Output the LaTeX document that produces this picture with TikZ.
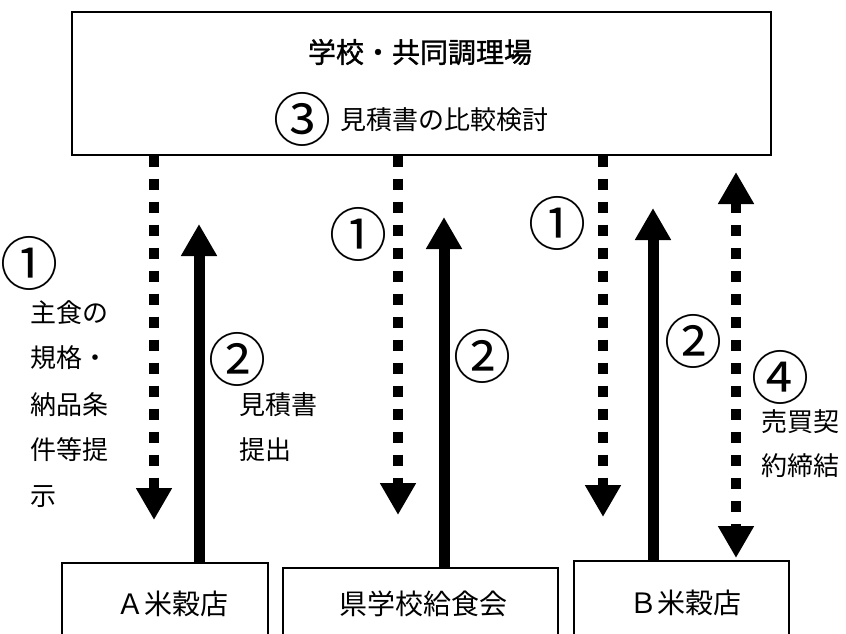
\documentclass[tikz,border=0pt]{standalone}
\usepackage{fontspec}
\usetikzlibrary{arrows.meta}
\newfontfamily\jp{Noto Sans CJK JP}
\newfontfamily\jpm{Noto Sans CJK JP}[FakeBold=1.2]
\tikzset{
  box/.style={draw, line width=1.6pt, fill=white},
  title/.style={font=\jpm\fontsize{28}{28}\selectfont, inner sep=0pt},
  lbl/.style={font=\jp\fontsize{26}{26}\selectfont, inner sep=0pt},
  boxlbl/.style={font=\jp\fontsize{28}{28}\selectfont, inner sep=0pt},
  cnum/.style={font=\jp\fontsize{58}{58}\selectfont, inner sep=0pt},
  solidarrow/.style={line width=11pt, -{Triangle[width=34pt,length=32pt]}},
  dasharrow/.style={line width=10pt, dash pattern=on 11pt off 12pt, -{Triangle[width=34pt,length=32pt]}},
  dblarrow/.style={line width=10pt, dash pattern=on 11pt off 12pt, {Triangle[width=34pt,length=32pt]}-{Triangle[width=34pt,length=32pt]}}
}
\begin{document}
\begin{tikzpicture}[x=1pt,y=-1pt]
\useasboundingbox (0,0) rectangle (846,634);
\begin{scope}
\clip (0,0) rectangle (846,634);
% top box
\node[box, minimum width=699pt, minimum height=143pt, anchor=north west] (top) at (71,11) {};
\node[title] (ttl) at (420,52) {学校・共同調理場};
\node[cnum] (n3) at (302,119) {③};
\node[lbl, anchor=west] (cmp) at (340,120) {見積書の比較検討};
% bottom boxes
\node[box, minimum width=206pt, minimum height=90pt, anchor=north west] (A) at (61,562) {};
\node[boxlbl] (Al) at (172,604) {Ａ米穀店};
\node[box, minimum width=275pt, minimum height=90pt, anchor=north west] (K) at (282,567) {};
\node[boxlbl] (Kl) at (423,604) {県学校給食会};
\node[box, minimum width=215pt, minimum height=90pt, anchor=north west] (B) at (573,560) {};
\node[boxlbl] (Bl) at (685,603) {Ｂ米穀店};
\end{scope}
% end points
\coordinate (a1t) at (154,520);
\coordinate (a2t) at (199,224);
\coordinate (k1t) at (398,515);
\coordinate (k2t) at (444,217);
\coordinate (b1t) at (603,517);
\coordinate (b2t) at (653,208);
\coordinate (b4t) at (736,172);
\coordinate (b4b) at (736,558);
% arrows
\draw[dasharrow] (top.south -| a1t) -- (a1t);
\draw[solidarrow] (A.north -| a2t) -- (a2t);
\draw[dasharrow] (top.south -| k1t) -- (k1t);
\draw[solidarrow] (K.north -| k2t) -- (k2t);
\draw[dasharrow] (top.south -| b1t) -- (b1t);
\draw[solidarrow] (B.north -| b2t) -- (b2t);
\draw[dblarrow] (b4t) -- (b4b);
% labels A
\node[cnum] (a1n) at (30,263) {①};
\node[lbl, anchor=west] (a1l1) at (30,313) {主食の};
\node[lbl, anchor=west] (a1l2) at (30,358) {規格・};
\node[lbl, anchor=west] (a1l3) at (30,405) {納品条};
\node[lbl, anchor=west] (a1l4) at (30,450) {件等提};
\node[lbl, anchor=west] (a1l5) at (30,497) {示};
\node[cnum] (a2n) at (237,359) {②};
\node[lbl, anchor=west] (a2l1) at (239,405) {見積書};
\node[lbl, anchor=west] (a2l2) at (239,450) {提出};
% labels K
\node[cnum] (k1n) at (358,234) {①};
\node[cnum] (k2n) at (482,356) {②};
% labels B
\node[cnum] (b1n) at (557,223) {①};
\node[cnum] (b2n) at (693,341) {②};
\node[cnum] (b4n) at (780,377) {④};
\node[lbl, anchor=west] (b4l1) at (761,422) {売買契};
\node[lbl, anchor=west] (b4l2) at (761,466) {約締結};
\end{tikzpicture}
\end{document}
